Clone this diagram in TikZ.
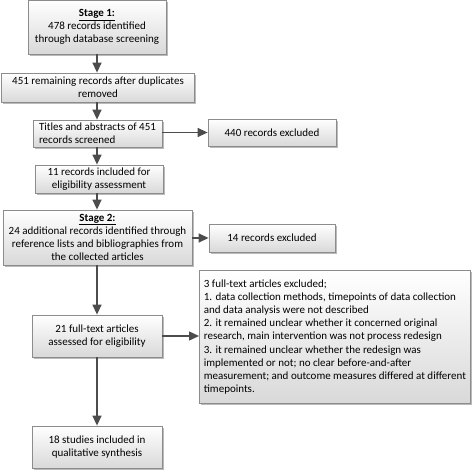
\documentclass[tikz,border=0pt]{standalone}
\usepackage{fontspec}
\setmainfont{Carlito}
\usetikzlibrary{arrows.meta,shadows}
\begin{document}
\begin{tikzpicture}[x=1pt,y=-1pt,
  box/.style={draw=black!45, line width=0.8pt, top color=white, bottom color=black!15,
    drop shadow={shadow xshift=1.5pt, shadow yshift=-1.5pt, fill=black!45, opacity=0.6},
    align=center, inner sep=2pt, font=\fontsize{11}{13.2}\selectfont},
  arr/.style={draw=black!70, line width=1.4pt, -{Triangle[length=10pt,width=9pt]}}
]
\useasboundingbox (0,0) rectangle (472,471);
\node[box, minimum width=138pt, minimum height=54pt] (b1) at (97,27)
  {\textbf{\underline{Stage 1:}}\\478 records identified\\through database screening};
\node[box, minimum width=193pt, minimum height=29pt] (b2) at (98,87.5)
  {451 remaining records after duplicates\\removed};
\node[box, minimum width=129pt, minimum height=27pt, align=left] (b3) at (97.5,133.5)
  {Titles and abstracts of 451\\records screened};
\node[box, minimum width=128pt, minimum height=27pt] (e1) at (272,132.5)
  {440 records excluded};
\node[box, minimum width=128pt, minimum height=28pt] (b4) at (99,179)
  {11 records included for\\eligibility assessment};
\node[box, minimum width=189pt, minimum height=55pt] (b5) at (97.5,237.5)
  {\textbf{\underline{Stage 2:}}\\24 additional records identified through\\reference lists and bibliographies from\\the collected articles};
\node[box, minimum width=126pt, minimum height=28pt] (e2) at (272,238)
  {14 records excluded};
\node[box, minimum width=271pt, minimum height=133pt, inner xsep=1pt, align=left, anchor=north west] (e3) at (199,270)
  {3 full-text articles excluded;\\
   1. data collection methods, timepoints of data collection\\
   and data analysis were not described\\
   2. it remained unclear whether it concerned original\\
   research, main intervention was not process redesign\\
   3. it remained unclear whether the redesign was\\
   implemented or not; no clear before-and-after\\
   measurement; and outcome measures differed at different\\
   timepoints.};
\node[box, minimum width=130pt, minimum height=42pt] (b6) at (97,336)
  {21 full-text articles\\assessed for eligibility};
\node[box, minimum width=130pt, minimum height=42pt] (b7) at (97,447)
  {18 studies included in\\qualitative synthesis};
\draw[arr] (b1.south) -- (b1.south |- b2.north);
\draw[arr] (b1.south |- b2.south) -- (b1.south |- b3.north);
\draw[arr] (b1.south |- b3.south) -- (b1.south |- b4.north);
\draw[arr] (b1.south |- b4.south) -- (b1.south |- b5.north);
\draw[arr] (b1.south |- b5.south) -- (b1.south |- b6.north);
\draw[arr] (b1.south |- b6.south) -- (b1.south |- b7.north);
\draw[arr] (b3.east |- e1.west) -- (e1.west);
\draw[arr] (b5.east |- e2.west) -- (e2.west);
\draw[arr] (b6.east) -- (b6.east -| e3.west);
\end{tikzpicture}
\end{document}
